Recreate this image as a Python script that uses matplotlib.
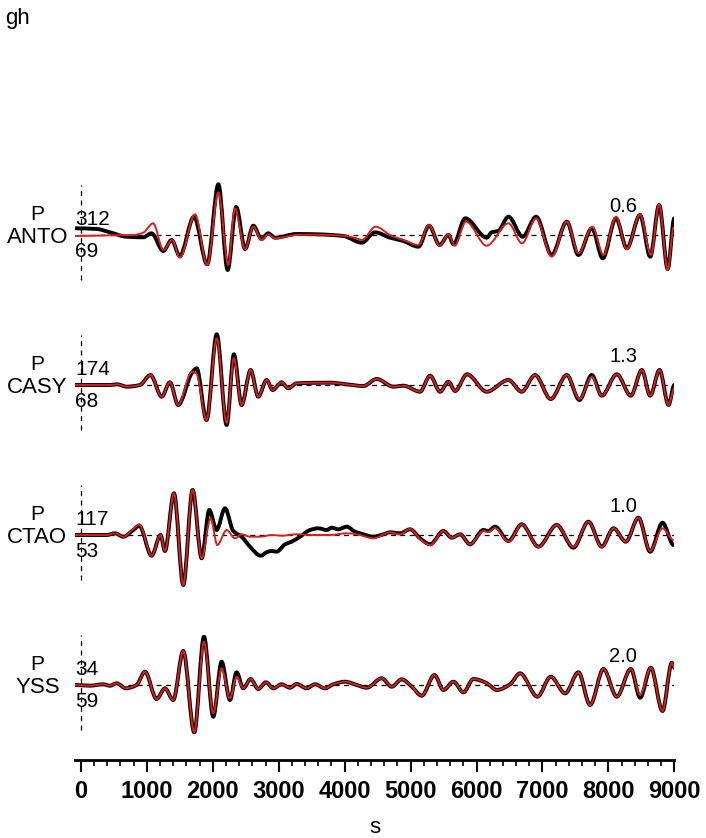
import numpy as np
import matplotlib.pyplot as plt
from matplotlib.path import Path
from matplotlib.patches import PathPatch

plt.rcParams['font.family'] = ['Liberation Sans', 'DejaVu Sans']

stations = ["ANTO", "CASY", "CTAO", "YSS"]
phases = ["P", "P", "P", "P"]
azimuths = ["312", "174", "117", "34"]
distances = ["69", "68", "53", "59"]
peak_amps = ["0.6", "1.3", "1.0", "2.0"]

# waveforms: time (s), amplitude (pixels of the original)
anto_t_obs = [-90, 240, 440, 690, 945, 1070, 1250, 1375, 1500, 1715, 1915, 2085, 2225, 2355,
              2490, 2615, 2740, 2840, 2945, 3270, 3580, 3980, 4260, 4460, 4690, 4890, 5120,
              5280, 5440, 5575, 5650, 5830, 6155, 6230, 6330, 6485, 6700, 6905, 7140, 7370,
              7545, 7750, 7915, 8115, 8280, 8480, 8635, 8770, 8900, 9000]
anto_obs = [6.7, 6, 2.7, -1.7, -2.3, 1.7, -16, -5, -21, 18.3, -29.3, 50.7, -35, 28,
            -14, 9.3, -4, 1.7, -2.7, 1, 0.7, -1, -7.7, 2.7, -2.7, -6, -11.7,
            9.3, -10, 0, -9.3, 16.7, -2.7, 2.7, 4, 18.3, -1.7, 18.3, -20, 13.3,
            -20, 6.7, -23.3, 16.7, -13.3, 20, -21.7, 30, -34, 16.7]
anto_t_syn = [-90, 440, 790, 945, 1095, 1250, 1385, 1500, 1730, 1915, 2085, 2235, 2335, 2490,
              2615, 2740, 2840, 2945, 3270, 3580, 3980, 4180, 4260, 4470, 4690, 4890, 5120,
              5280, 5440, 5575, 5670, 5840, 6155, 6485, 6690, 6905, 7140, 7370, 7545, 7760,
              7925, 8115, 8280, 8480, 8645, 8770, 8900, 8990]
anto_syn = [-1, -0.3, 0, 2.3, 11.7, -15, -5, -22.7, 20.7, -30, 42.7, -30, 26.7, -14,
            8.3, -5, 0.7, -3.3, 0, 0.3, -0.7, -3.3, -5, 8.3, 0, -5, -10,
            10, -10.7, 0.7, -10.7, 13.3, -10.7, 11.7, -8.3, 16.7, -21.7, 13.3, -18.3, 8.3,
            -20, 18.3, -14, 20.7, -20, 30.7, -35, 8]

casy_t_obs = [-90, 440, 545, 700, 895, 1055, 1225, 1350, 1475, 1680, 1755, 1905, 2060, 2210,
              2320, 2437, 2574, 2690, 2817, 2908, 3044, 3146, 3272, 3778, 4031, 4284, 4486,
              4739, 4891, 5144, 5296, 5448, 5574, 5676, 5855, 6155, 6484, 6686, 6889, 7126,
              7369, 7561, 7749, 7900, 8128, 8341, 8508, 8634, 8776, 8913, 9000]
casy_obs = [0, 0, 0.7, -1.7, 0, 10, -11.7, 2.7, -20, 11.7, 16.7, -35, 50.7, -40,
            30.7, -20, 15, -11.7, 5, -5, 2.7, -3.3, 1.7, 2.3, 0.7, -1, 6,
            -1.7, -0.7, -6.7, 9.3, -6.7, 3.3, -6, 10.7, -6.7, 5, -6.7, 10, -14,
            10, -15, 10, -10.7, 10.7, -10.7, 15, -10.7, 15, -20, 0]
casy_t_syn = casy_t_obs
casy_syn = [0, 0, 0.7, -1.7, 0, 10, -11.7, 2.7, -20, 13.3, 11, -35, 46.7, -38,
            26.7, -20, 15, -11.7, 5, -5, 2.7, -3.3, 1.7, 2.3, 0.7, -1, 6,
            -1.7, -0.7, -6.7, 9.3, -6.7, 3.3, -6, 10.7, -6.7, 5, -6.7, 10, -14,
            10, -14, 8, -10.7, 10.7, -10.7, 15, -10.7, 15, -20, -3.3]

ctao_t_obs = [-90, 390, 516, 642, 794, 885, 1072, 1208, 1274, 1411, 1552, 1694, 1831, 1947,
              2058, 2185, 2311, 2437, 2564, 2726, 2817, 2893, 2968, 3095, 3196, 3323, 3474,
              3601, 3727, 3803, 3904, 4031, 4158, 4284, 4436, 4588, 4689, 4841, 4992, 5144,
              5296, 5498, 5625, 5751, 5902, 6104, 6180, 6281, 6484, 6686, 6939, 7217, 7470,
              7698, 7900, 8078, 8265, 8457, 8634, 8821, 8990]
ctao_obs = [0, 0, 1.7, -1.7, 5, 9.3, -20.7, 0, -16, 41.7, -50, 45, -23.3, 25,
            5, 26.7, 4, -1.7, -11.7, -20.7, -17.3, -16, -16.7, -9.3, -6.7, -1.7, 5,
            6.7, 5, 7.3, 5.7, 8.3, 3.3, 0.7, -1.7, 0.7, 2.7, 1.7, 5.7, -3.3,
            -9.3, 4, -2.7, 0.7, -9.3, 5, 4, 8.3, -6, 10.7, -11.7, 10, -12.7,
            13.3, -11.7, 6.7, -6.7, 17.3, -16.7, 12.3, -10]
ctao_t_syn = [-90, 390, 516, 642, 794, 885, 1072, 1208, 1274, 1411, 1552, 1694, 1831, 1967,
              2068, 2210, 2336, 2437, 2564, 2726, 2893, 3044, 3272, 3525, 3778, 4031, 4183,
              4436, 4689, 4841, 4992, 5144, 5296, 5498, 5625, 5751, 5902, 6104, 6180, 6281,
              6484, 6686, 6939, 7217, 7470, 7698, 7900, 8078, 8265, 8457, 8634, 8821, 8990]
ctao_syn = [0, 0, 1.7, -1.7, 6, 10.7, -20.7, 0, -16, 41.7, -50, 45, -23.3, 16.7,
            -10, 5, -3.3, 0.7, -1.7, -1.7, 0, -0.7, 0.7, 0, 0, 1.7, 0.7,
            -3.3, 2.7, 0.7, 6, -4, -10, 4, -2.7, 0.7, -9.3, 4, 3, 7,
            -6.7, 10.7, -12, 10, -12, 13.3, -12, 6.7, -6.7, 17.3, -16, 6.7, -5]

yss_t_obs = [-90, 136, 339, 440, 541, 683, 844, 971, 1148, 1274, 1400, 1552, 1719, 1866,
             2007, 2134, 2260, 2361, 2462, 2574, 2690, 2806, 2918, 3044, 3171, 3272, 3424,
             3550, 3702, 3829, 4006, 4183, 4335, 4562, 4714, 4866, 5018, 5170, 5362, 5498,
             5650, 5802, 5952, 6130, 6180, 6307, 6509, 6661, 6924, 7126, 7344, 7546, 7723,
             7926, 8128, 8341, 8482, 8644, 8821, 8963, 9000]
yss_obs = [0, -0.7, 0.7, -0.7, 1.7, -3.3, 0, 13.3, -14, -3.3, -15, 34, -47.3, 48.3,
           -31.7, 23.3, -15, 12.7, -3.3, 6, -4, 2.7, -3.3, 0.7, -2.7, 1, -3.3,
           0.7, -3.3, 0.7, 3.3, 0, -2.7, 6.7, -1.7, 5.7, -1.7, -10.7, 10, -5,
           3.3, -7.3, 6, 2.7, 0.7, -5, 0.7, 11.7, -11.7, 8.3, -8.3, 12.7, -20,
           16, -11.7, 16, -12.7, 17.3, -26, 22.3, 17.3]
yss_t_syn = yss_t_obs
yss_syn = [0, -0.7, 0.7, -0.7, 1.7, -3.3, 0, 13.3, -14, -3.3, -15, 34, -47.3, 43.3,
           -28.3, 16.7, -13.3, 8.3, -3.3, 6, -4, 2.7, -3.3, 0.7, -2.7, 1, -3.3,
           0.7, -3.3, 0.7, 3.3, 0, -2.7, 6.7, -1.7, 5.7, -1.7, -10.7, 10, -5,
           3.3, -7.3, 6, 2.7, 0.7, -5, 0.7, 11.7, -11.7, 8.3, -8.3, 12.7, -20,
           16, -11.7, 16, -10, 17.3, -26, 22.3, 17.3]

observed = [(anto_t_obs, anto_obs), (casy_t_obs, casy_obs),
            (ctao_t_obs, ctao_obs), (yss_t_obs, yss_obs)]
synthetic = [(anto_t_syn, anto_syn), (casy_t_syn, casy_syn),
             (ctao_t_syn, ctao_syn), (yss_t_syn, yss_syn)]

scale = 150.0  # trace spacing in original pixels


def trace_path(t, y):
    # bezier through the read points, flat tangent at peaks/troughs
    t = np.asarray(t, float)
    y = np.asarray(y, float)
    n = len(t)
    m = np.zeros(n)
    for i in range(1, n - 1):
        d0 = (y[i] - y[i - 1]) / (t[i] - t[i - 1])
        d1 = (y[i + 1] - y[i]) / (t[i + 1] - t[i])
        if d0 * d1 > 0:
            m[i] = 2 * d0 * d1 / (d0 + d1)
    verts = [(t[0], y[0])]
    codes = [Path.MOVETO]
    for i in range(1, n):
        h = (t[i] - t[i - 1]) / 3
        verts += [(t[i - 1] + h, y[i - 1] + m[i - 1] * h),
                  (t[i] - h, y[i] - m[i] * h), (t[i], y[i])]
        codes += [Path.CURVE4] * 3
    return Path(verts, codes)


fig = plt.figure(figsize=(7.06, 8.38), dpi=100)
ax = fig.add_axes([75 / 706, 78 / 838, 599.3 / 706, 600 / 838])

for k in range(4):
    off = -k
    t, a = observed[k]
    ax.add_patch(PathPatch(trace_path(t, off + np.array(a) / scale), fill=False,
                           edgecolor="black", lw=2.8, joinstyle="round",
                           capstyle="round", zorder=3))
    t, a = synthetic[k]
    ax.add_patch(PathPatch(trace_path(t, off + np.array(a) / scale), fill=False,
                           edgecolor="#d42020", lw=1.4, joinstyle="round", zorder=4))
    ax.hlines(off, 0, 9000, colors="black", lw=0.9, linestyles=(0, (4, 3.5)), zorder=2)
    ax.vlines(0, off - 45 / scale, off + 50 / scale, colors="black", lw=0.9,
              linestyles=(0, (4, 3.5)), zorder=2)

    ax.text(-660, off + 15 / scale, phases[k], ha="center", va="baseline", fontsize=15)
    ax.text(-660, off - 8.3 / scale, stations[k], ha="center", va="baseline", fontsize=16)
    ax.text(-90, off + 10 / scale, azimuths[k], ha="left", va="baseline", fontsize=15)
    ax.text(-90, off - 21.7 / scale, distances[k], ha="left", va="baseline", fontsize=15)
    ax.text(8222, off + 23.3 / scale, peak_amps[k], ha="center", va="baseline", fontsize=14.5)

ax.set_xlim(-90, 9000)
ax.set_ylim(-3.5, 0.5)
for side in ["top", "left", "right"]:
    ax.spines[side].set_visible(False)
ax.spines["bottom"].set_linewidth(2)
ax.set_yticks([])
ax.set_xticks(np.arange(0, 9001, 1000))
ax.set_xticks(np.arange(0, 9001, 200), minor=True)
ax.tick_params(axis="x", which="major", direction="out", length=8.5, width=1.5, pad=6,
               labelsize=17)
ax.tick_params(axis="x", which="minor", direction="out", length=4.3, width=1.2)
for lab in ax.get_xticklabels():
    lab.set_fontweight("bold")
ax.set_xlabel("s", fontsize=16, labelpad=10)

fig.text(5 / 706, 1 - 24 / 838, "gh", fontsize=16, va="baseline")

fig.savefig("out.png", dpi=100)
